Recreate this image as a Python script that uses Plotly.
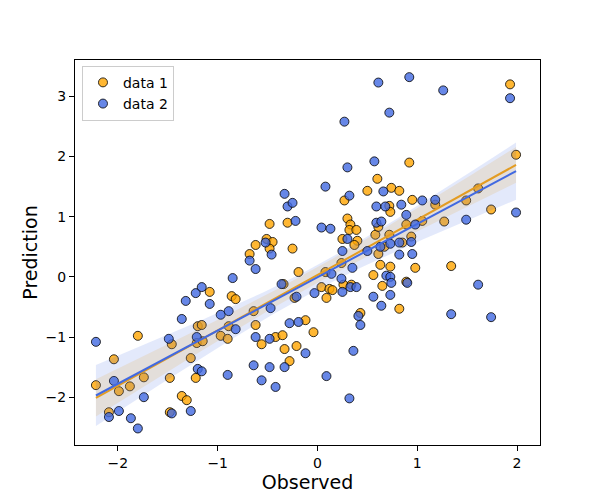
import numpy as np
import plotly.graph_objects as go

# ---- data ----
x1 = [-2.22, -2.09, -2.04, -1.99, -1.88, -1.80, -1.74, -1.48, -1.46, -1.48,
      -1.36, -1.31, -1.27, -1.22, -1.20, -1.16, -1.21, -1.15, -1.08, -0.97,
      -0.90, -0.86, -0.82, -0.89, -0.68, -0.62, -0.64, -0.62, -0.56, -0.51,
      -0.45, -0.48, -0.48, -0.42, -0.35, -0.33, -0.34, -0.30, -0.25, -0.28,
      -0.23, -0.21, -0.19, -0.12, -0.04, 0.04, 0.12, 0.15, 0.09, 0.08,
      0.24, 0.26, 0.25, 0.27, 0.30, 0.33, 0.32, 0.39, 0.40, 0.37,
      0.34, 0.43, 0.50, 0.56, 0.58, 0.60, 0.61, 0.65, 0.63, 0.73,
      0.67, 0.72, 0.73, 0.72, 0.74, 0.82, 0.82, 0.85, 0.89, 0.92,
      0.94, 0.95, 0.98, 1.05, 1.18, 1.27, 1.34, 1.49, 1.61, 1.74,
      1.93, 1.99, 0.89, 0.61]
y1 = [-1.80, -2.25, -1.37, -1.90, -1.82, -0.98, -1.67, -1.68, -1.12, -2.25,
      -1.98, -2.05, -1.35, -1.68, -0.82, -0.80, -1.10, -1.07, -0.25, -0.98,
      -1.03, -0.32, -0.37, -0.82, 0.38, 0.53, -0.57, -0.80, -1.12, 0.63,
      0.58, 0.47, 0.88, -1.00, -0.97, -1.20, -0.12, 0.90, 0.47, -1.40,
      -0.35, -1.15, 0.08, -0.72, -0.92, -0.17, -0.20, -0.22, -0.35, 0.08,
      0.23, -0.13, 0.63, 1.27, 0.97, 0.87, 0.78, 0.78, 0.60, 0.53,
      -0.13, -0.60, 1.43, 0.03, 0.70, 1.63, 0.38, -0.15, 0.20, 0.17,
      0.50, 1.18, 1.08, 0.70, 1.48, 1.43, -0.53, 0.57, 0.87, 1.90,
      0.67, 1.28, 0.15, 0.93, 1.20, 0.92, 0.18, 1.27, 1.47, 1.12,
      3.20, 2.03, -0.08, 0.83]

x2 = [-2.22, -2.04, -2.09, -1.99, -1.87, -1.80, -1.74, -1.49, -1.46, -1.27,
      -1.20, -1.16, -1.21, -1.36, -1.32, -1.22, -1.16, -1.08, -0.97, -0.89,
      -0.90, -0.85, -0.82, -0.68, -0.62, -0.62, -0.64, -0.56, -0.52, -0.48,
      -0.48, -0.47, -0.46, -0.42, -0.36, -0.33, -0.33, -0.30, -0.25, -0.22,
      -0.28, -0.21, -0.19, -0.12, -0.03, 0.04, 0.13, 0.14, 0.08, 0.09,
      0.24, 0.25, 0.25, 0.27, 0.30, 0.30, 0.32, 0.33, 0.35, 0.39,
      0.41, 0.43, 0.36, 0.32, 0.50, 0.56, 0.57, 0.59, 0.59, 0.64,
      0.61, 0.66, 0.68, 0.63, 0.64, 0.69, 0.73, 0.74, 0.72, 0.73,
      0.73, 0.84, 0.82, 0.82, 0.89, 0.92, 0.90, 0.94, 0.95, 0.98,
      1.05, 1.18, 1.26, 1.34, 1.49, 1.61, 1.74, 1.93, 1.99]
y2 = [-1.08, -1.73, -2.33, -2.23, -2.35, -2.52, -2.00, -1.03, -2.27, -2.23,
      -1.53, -1.57, -1.00, -0.70, -0.40, -0.27, -0.17, -0.45, -0.63, -0.57,
      -1.63, -0.02, -0.87, 0.27, 0.13, -1.00, -1.47, -1.72, 0.57, -1.03,
      -1.50, -0.52, 0.37, -1.83, -0.12, 1.38, -1.50, 1.17, 1.23, 0.93,
      -0.77, -0.33, -0.75, -1.27, -0.27, 0.82, 0.80, 0.05, 1.50, -1.65,
      -0.03, -0.25, 0.43, 2.58, 1.82, 0.63, 1.35, -0.17, 0.15, -0.17,
      -0.65, -0.80, -1.23, -2.02, 0.43, -0.33, 1.92, 1.17, 0.90, 0.92,
      3.23, 1.42, 1.17, 0.50, -0.48, 0.02, 0.00, -0.10, 2.73, 0.55,
      -0.30, 1.20, 0.57, 0.37, 1.03, 3.32, -0.10, 0.58, 0.38, 0.87,
      1.27, 1.28, 3.10, -0.62, 0.95, -0.13, -0.67, 2.97, 1.07]

names = ["data 1", "data 2"]
x_ticks = [-2, -1, 0, 1, 2]
y_ticks = [-2, -1, 0, 1, 2, 3]

FONT = "DejaVu Sans"


def reg_band(x, y, n_grid=100):
    x = np.asarray(x, float)
    y = np.asarray(y, float)
    n = len(x)
    b, a = np.polyfit(x, y, 1)
    grid = np.linspace(x.min(), x.max(), n_grid)
    fit = a + b * grid
    resid = y - (a + b * x)
    s = np.sqrt(np.sum(resid ** 2) / (n - 2))
    sxx = np.sum((x - x.mean()) ** 2)
    se = s * np.sqrt(1.0 / n + (grid - x.mean()) ** 2 / sxx)
    t = 1.984
    return grid, fit, fit - t * se, fit + t * se


series = [
    (x1, y1, "rgba(255,165,0,0.8)", "#FFA500", "rgba(255,165,0,0.15)"),
    (x2, y2, "rgba(65,105,225,0.8)", "#4169E1", "rgba(65,105,225,0.15)"),
]

fig = go.Figure()
for name, (xs, ys, mcol, lcol, bcol) in zip(names, series):
    fig.add_trace(go.Scatter(
        x=xs, y=ys, mode="markers", name=name,
        marker=dict(size=9, color=mcol,
                    line=dict(color="rgba(0,0,0,0.8)", width=1)),
        hoverinfo="skip"))
    g, f, lo, hi = reg_band(xs, ys)
    fig.add_trace(go.Scatter(
        x=np.concatenate([g, g[::-1]]), y=np.concatenate([hi, lo[::-1]]),
        fill="toself", fillcolor=bcol, line=dict(width=0),
        mode="lines", showlegend=False, hoverinfo="skip"))
    fig.add_trace(go.Scatter(
        x=g, y=f, mode="lines", line=dict(color=lcol, width=2),
        showlegend=False, hoverinfo="skip"))

axis_common = dict(
    showline=True, linecolor="black", linewidth=1, mirror=True,
    ticks="outside", ticklen=5, tickwidth=1, tickcolor="black",
    showgrid=False, zeroline=False, automargin=False,
    tickfont=dict(size=14, color="black", family=FONT),
)

fig.update_xaxes(range=[-2.43, 2.23], tickvals=x_ticks,
                 title=dict(text="Observed", font=dict(size=19, color="black", family=FONT),
                            standoff=5),
                 **axis_common)
fig.update_yaxes(range=[-2.795, 3.605], tickvals=y_ticks,
                 title=dict(text="Prediction", font=dict(size=19, color="black", family=FONT),
                            standoff=2),
                 **axis_common)

fig.update_layout(
    width=600, height=500,
    margin=dict(l=75, r=60, t=60, b=55),
    paper_bgcolor="white", plot_bgcolor="white",
    font=dict(family=FONT, color="black"),
    showlegend=True,
    legend=dict(x=0.015, y=0.985, xanchor="left", yanchor="top",
                bgcolor="rgba(255,255,255,0.8)", bordercolor="#cccccc",
                borderwidth=1, font=dict(size=14, family=FONT, color="black")),
)

fig.write_html("out.html")
